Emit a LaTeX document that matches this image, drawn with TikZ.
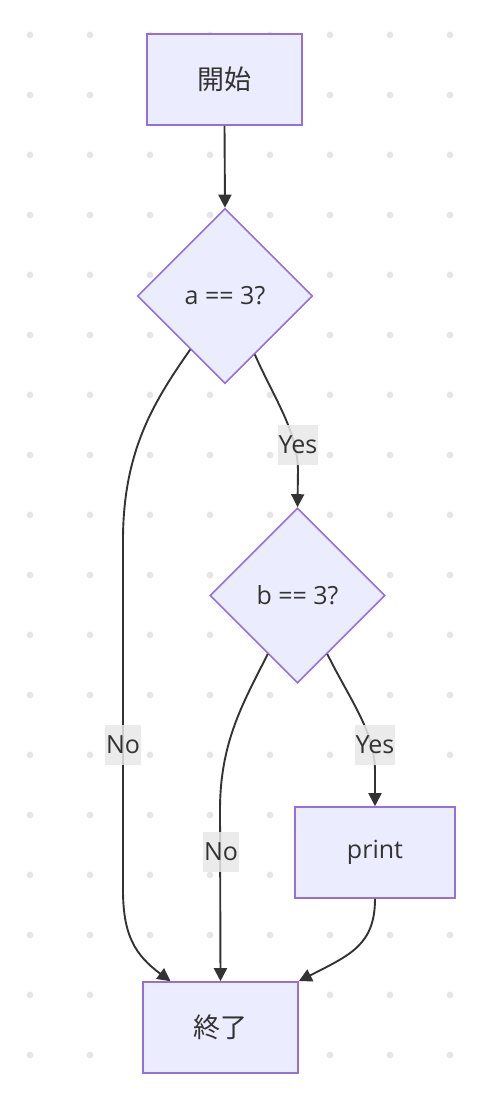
\documentclass[tikz,border=0pt]{standalone}
\usepackage{fontspec}
\setmainfont{Open Sans}
\newfontfamily\cjk{Noto Sans CJK JP}
\usetikzlibrary{shapes.geometric,arrows.meta}
\definecolor{nodefill}{HTML}{ECECFF}
\definecolor{nodeline}{HTML}{9370DB}
\definecolor{edgec}{HTML}{333333}
\definecolor{textc}{HTML}{333333}
\definecolor{lblbg}{HTML}{E8E8E8}
\definecolor{dotc}{HTML}{E6E6E6}
\tikzset{
  boxnode/.style={draw=nodeline, fill=nodefill, line width=1.6pt, rectangle,
    minimum width=155pt, minimum height=91pt, inner sep=0pt, text=textc,
    font=\fontsize{25}{30}\selectfont},
  decnode/.style={draw=nodeline, fill=nodefill, line width=1.6pt, diamond, aspect=1,
    minimum width=175pt, minimum height=175pt, inner sep=0pt, text=textc,
    font=\fontsize{25}{30}\selectfont},
  cjktext/.style={font=\fontsize{27}{32}\selectfont\cjk},
  edge/.style={draw=edgec, line width=1.9pt, -{Triangle[length=13pt,width=13pt]}},
  lbl/.style={fill=lblbg, fill opacity=0.85, text opacity=1, text=textc, inner xsep=1pt,
    inner ysep=0pt, minimum height=40pt, font=\fontsize{25}{30}\selectfont}
}
\begin{document}
\begin{tikzpicture}[x=1pt,y=-1pt]
\useasboundingbox (0,0) rectangle (501,1094);
\fill[white] (0,0) rectangle (501,1094);
\foreach \x in {30,90,...,450} {
  \foreach \y in {35,95,...,1055} {
    \fill[dotc] (\x,\y) circle[radius=3.4pt];
  }
}
\node[boxnode, cjktext] (start) at (224.5,79.5) {開始};
\node[decnode] (a) at (225,296) {a == 3?};
\node[decnode] (b) at (297.5,595.5) {b == 3?};
\node[boxnode, minimum width=160pt] (print) at (375,852.5) {print};
\node[boxnode, cjktext] (end) at (220.5,1027.5) {終了};

\draw[edge] (start.south) -- (a.north);
\draw[edge] (a.237) .. controls (155,400) and (123,450) .. (123,540) -- (123,890)
  .. controls (123,935) and (135,955) .. ([xshift=-50pt]end.north);
\draw[edge] (a.297) .. controls (275,400) and (297,430) .. (298,470) -- (b.north);
\draw[edge] (b.243) .. controls (245,700) and (220,740) .. (220,810) -- (end.north);
\draw[edge] (b.297) .. controls (350,700) and (374,730) .. (375,770) -- (print.north);
\draw[edge] (print.south) .. controls (375,945) and (350,955) .. (end.north east);

\node[lbl] (l1) at (298,445) {Yes};
\node[lbl] (l2) at (123,745) {No};
\node[lbl] (l3) at (375,745) {Yes};
\node[lbl] (l4) at (221,852) {No};
\end{tikzpicture}
\end{document}
